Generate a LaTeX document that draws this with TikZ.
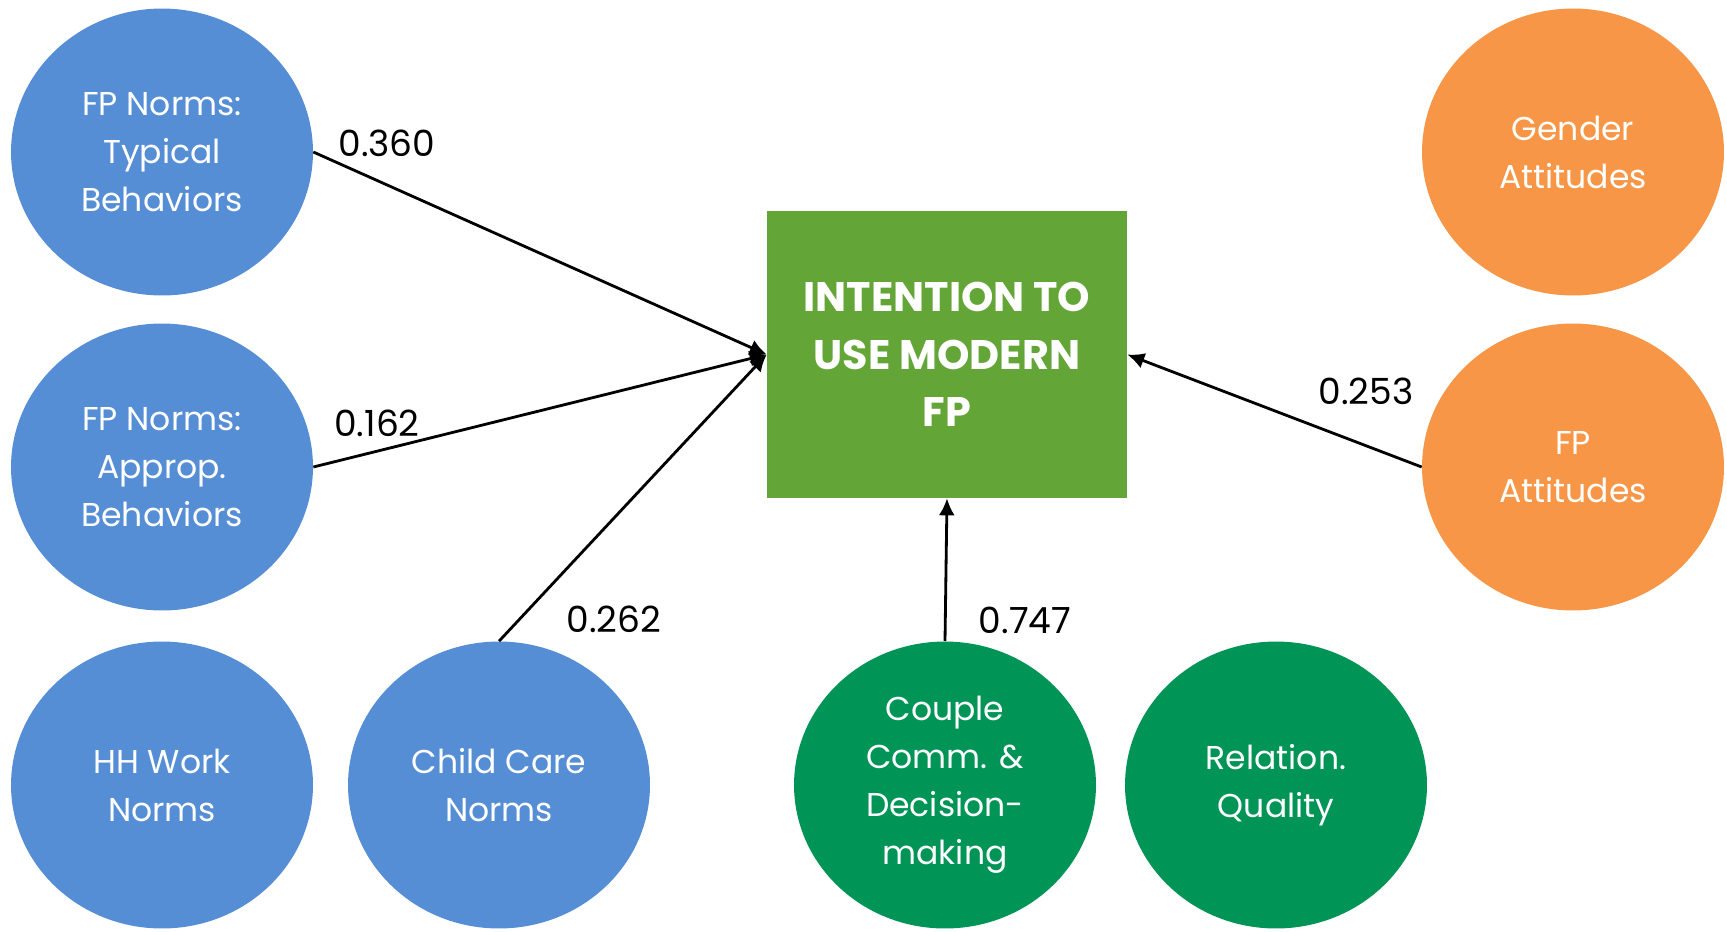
\documentclass[tikz,border=0pt]{standalone}
\usepackage{fontspec}
\setmainfont{Poppins}
\usetikzlibrary{shapes.geometric,arrows.meta}

\definecolor{normblue}{HTML}{558ED5}
\definecolor{attorange}{HTML}{F79646}
\definecolor{coupgreen}{HTML}{009456}
\definecolor{intentgreen}{HTML}{63A537}

\begin{document}
\begin{tikzpicture}
[x=0.02cm,y=-0.02cm
,factor/.style={ellipse,minimum width=6.04cm,minimum height=5.74cm,inner sep=0pt,text=white,align=center,font=\fontsize{18.8}{27.3}\selectfont}
,norm/.style={factor,fill=normblue}
,attitude/.style={factor,fill=attorange}
,couple/.style={factor,fill=coupgreen}
,outcome/.style={rectangle,fill=intentgreen,minimum width=7.2cm,minimum height=5.74cm,text=white,align=center,font=\fontsize{23.5}{32.6}\selectfont\bfseries}
,weight/.style={font=\fontsize{20.5}{24}\selectfont}
,effect/.style={-{Latex[length=0.34cm,width=0.32cm]},line width=1.6pt}
]

\useasboundingbox (0,0) rectangle (1727,931);

\node[outcome] (intent) at (947,354.5) {INTENTION TO\\USE MODERN\\FP};

\node[norm] (typical)  at (162,152) {FP Norms:\\Typical\\Behaviors};
\node[norm] (approp)   at (162,467) {FP Norms:\\Approp.\\Behaviors};
\node[norm] (hhwork)   at (162,785) {HH Work\\Norms};
\node[norm] (child)    at (499,785) {Child Care\\Norms};
\node[couple] (comm)   at (945,785) {Couple\\Comm. \&\\Decision-\\making};
\node[couple] (relqual) at (1276,785) {Relation.\\Quality};
\node[attitude] (gender) at (1573,152) {Gender\\Attitudes};
\node[attitude] (fpatt)  at (1573,467) {FP\\Attitudes};

\draw[effect] (typical.east) -- (intent.west);
\draw[effect] (approp.east) -- (intent.west);
\draw[effect] (child.north) -- (intent.west);
\draw[effect] (comm.north) -- (intent.south);
\draw[effect] (fpatt.west) -- (intent.east);

\node[weight] (w360) at (387,143) {0.360};
\node[weight] (w162) at (377,423) {0.162};
\node[weight] (w262) at (614,619) {0.262};
\node[weight] (w747) at (1025,620) {0.747};
\node[weight] (w253) at (1366,391) {0.253};

\end{tikzpicture}
\end{document}
